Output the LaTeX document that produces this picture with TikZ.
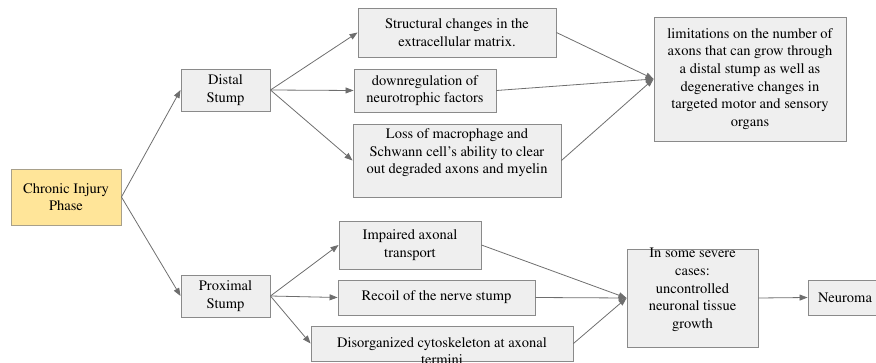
\documentclass[tikz,border=0pt]{standalone}
\usepackage[T1]{fontenc}
\usepackage{mathptmx}
\usetikzlibrary{arrows.meta}
\definecolor{boxfill}{HTML}{EFEFEF}
\definecolor{boxline}{HTML}{8A8A8A}
\definecolor{yfill}{HTML}{FFE599}
\definecolor{yline}{HTML}{A8A08A}
\definecolor{arr}{HTML}{6E6E6E}
\begin{document}
\begin{tikzpicture}[x=1pt,y=1pt,
  box/.style={draw=boxline, fill=boxfill, line width=0.9pt, inner sep=0pt, align=center,
    font=\rmfamily\fontsize{14.5}{17.6}\selectfont},
  ybox/.style={box, draw=yline, fill=yfill},
  txt/.style={inner sep=0pt, align=center, font=\rmfamily\fontsize{14.5}{17.6}\selectfont},
  conn/.style={draw=arr, line width=0.8pt, -{Triangle[length=8pt,width=6pt]}}
]
\useasboundingbox (0,0) rectangle (876,362);
\node[ybox, minimum width=110, minimum height=56] (chronic) at (66,165) {Chronic Injury\\Phase};
\node[box, minimum width=89, minimum height=42] (distal) at (225.5,272) {Distal\\Stump};
\node[box, minimum width=89, minimum height=42] (prox) at (225.5,66) {Proximal\\Stump};
\node[box, minimum width=198, minimum height=49] (struct) at (457,329.5) {Structural changes in the\\extracellular matrix.};
\node[box, minimum width=142, minimum height=43] (down) at (425,271.5) {downregulation of\\neurotrophic factors};
\node[box, minimum width=208, minimum height=73] (loss) at (457,201.5) {};
\node[txt] (losst) at (457,209) {Loss of macrophage and\\Schwann cell's ability to clear\\out degraded axons and myelin};
\node[box, minimum width=192, minimum height=124] (limit) at (750,283) {limitations on the number of\\axons that can grow through\\a distal stump as well as\\degenerative changes in\\targeted motor and sensory\\organs};
\node[box, minimum width=142, minimum height=48] (imp) at (410,117) {Impaired axonal\\transport};
\node[box, minimum width=197, minimum height=35] (recoil) at (436.5,64.5) {Recoil of the nerve stump};
\node[box, minimum width=262, minimum height=35] (dis) at (442,18.5) {};
\node[txt] (dist) at (442,11) {Disorganized cytoskeleton at axonal\\termini};
\node[box, minimum width=131, minimum height=98] (sev) at (692.5,64) {};
\node[txt] (sevt) at (692.5,72) {In some severe\\cases:\\uncontrolled\\neuronal tissue\\growth};
\node[box, minimum width=80, minimum height=35, text width=80, align=left] (neu) at (848,64.5) {\hspace*{10pt}Neuroma};

\draw[conn] (chronic.east) -- (distal.west);
\draw[conn] (chronic.east) -- (prox.west);
\draw[conn] (distal.east) -- (struct.west);
\draw[conn] (distal.east) -- (down.west);
\draw[conn] (distal.east) -- (loss.west);
\draw[conn] (struct.east) -- (limit.west);
\draw[conn] (down.east) -- (limit.west);
\draw[conn] (loss.east) -- (limit.west);
\draw[conn] (prox.east) -- (imp.west);
\draw[conn] (prox.east) -- (recoil.west);
\draw[conn] (prox.east) -- (dis.west);
\draw[conn] (imp.east) -- (sev.west);
\draw[conn] (recoil.east) -- (sev.west);
\draw[conn] (dis.east) -- (sev.west);
\draw[conn] (sev.east) -- (neu.west);
\end{tikzpicture}
\end{document}
